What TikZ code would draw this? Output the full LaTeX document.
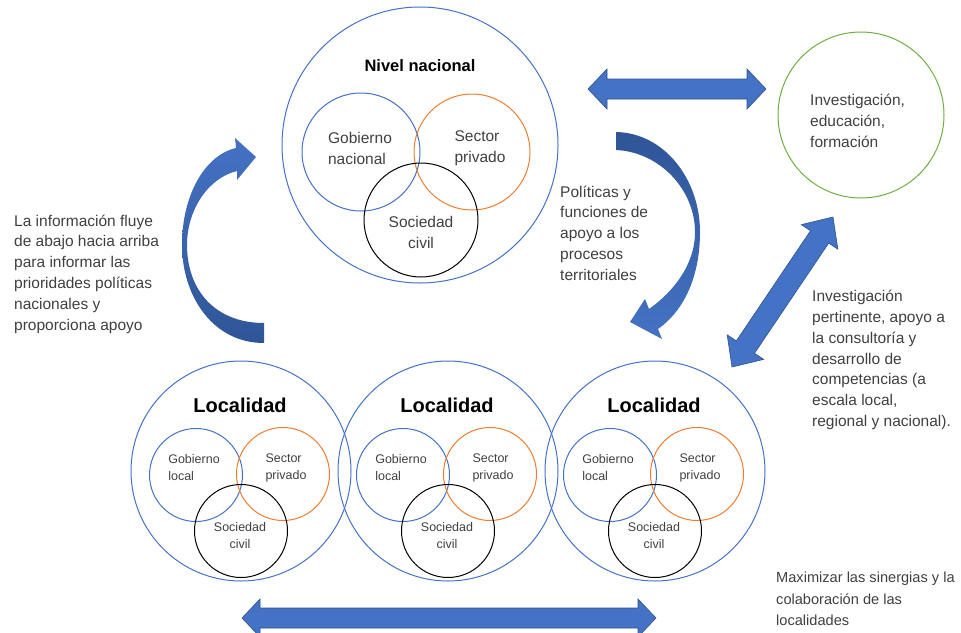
\documentclass[tikz,border=0pt]{standalone}
\usepackage{fontspec}
\setmainfont{Liberation Sans}
\usetikzlibrary{calc}
\definecolor{cblue}{HTML}{4472C4}
\definecolor{corange}{HTML}{ED7D31}
\definecolor{cgreen}{HTML}{70AD47}
\definecolor{ctext}{HTML}{404040}
\definecolor{cdark}{HTML}{2F5597}
\definecolor{cedge}{HTML}{2F528F}
\newcommand\dblarrow[5]{%
  \filldraw[arrowstyle] (#1)
   -- ($(#1)!#5!(#2)!#4!90:(#2)$)
   -- ($(#1)!#5!(#2)!#3!90:(#2)$)
   -- ($(#2)!#5!(#1)!#3!-90:(#1)$)
   -- ($(#2)!#5!(#1)!#4!-90:(#1)$)
   -- (#2)
   -- ($(#2)!#5!(#1)!#4!90:(#1)$)
   -- ($(#2)!#5!(#1)!#3!90:(#1)$)
   -- ($(#1)!#5!(#2)!#3!-90:(#2)$)
   -- ($(#1)!#5!(#2)!#4!-90:(#2)$)
   -- cycle;}
\tikzset{
  circ/.style={circle, draw, line width=1pt, inner sep=0pt, minimum size=#1},
  bigtxt/.style={font=\fontsize{15.5}{20.8}\selectfont, text=ctext, align=left, inner sep=0pt, anchor=west},
  intxt/.style={font=\fontsize{15.5}{21}\selectfont, text=ctext, inner sep=0pt},
  smtxt/.style={font=\fontsize{12.5}{17}\selectfont, text=ctext, inner sep=0pt},
  arrowstyle/.style={fill=cblue, draw=cedge, line width=0.6pt, line join=miter},
}
\begin{document}
\begin{tikzpicture}[x=1pt, y=-1pt]
\useasboundingbox (0,0) rectangle (961,632);

% national level
\node[circ=276, draw=cblue] (nat) at (420,145) {};
\node[font=\bfseries\fontsize{16.5}{20}\selectfont, inner sep=0pt] (natlbl) at (420,66) {Nivel nacional};
\node[circ=118, draw=cblue] (gobnat) at (361,152) {};
\node[circ=116, draw=corange] (secnat) at (472,152) {};
\node[circ=114, draw=black] (socnat) at (421,220) {};
\node[intxt, align=left] (gobnatlbl) at (360,148) {Gobierno\\nacional};
\node[intxt, align=left] (secnatlbl) at (480,148) {Sector\\privado};
\node[intxt, align=center] (socnatlbl) at (421,232) {Sociedad\\civil};

% research circle
\node[circ=166, draw=cgreen] (inv) at (861,115) {};
\node[bigtxt] (invlbl) at (810,121) {Investigación,\\educación,\\formación};

% localities
\foreach \i/\cx in {1/241, 2/448, 3/655} {
  \node[circ=220, draw=cblue] (loc\i) at (\cx,471) {};
  \node[font=\bfseries\fontsize{20}{24}\selectfont, inner sep=0pt] (loclbl\i) at ($(loc\i)+(-1,-66)$) {Localidad};
  \node[circ=93, draw=cblue] (gobloc\i) at ($(loc\i)+(-45,4)$) {};
  \node[circ=93, draw=corange] (secloc\i) at ($(loc\i)+(42,3)$) {};
  \node[circ=93, draw=black] (socloc\i) at ($(loc\i)+(0,60)$) {};
  \node[smtxt, align=left] (goblbl\i) at ($(loc\i)+(-47,-3)$) {Gobierno\\local};
  \node[smtxt, align=left] (seclbl\i) at ($(loc\i)+(45,-3)$) {Sector\\privado};
  \node[smtxt, align=center] (soclbl\i) at ($(loc\i)+(-1,65)$) {Sociedad\\civil};
}

% texts
\node[bigtxt] (lefttxt) at (14,274) {La información fluye\\de abajo hacia arriba\\para informar las\\prioridades políticas\\nacionales y\\proporciona apoyo};
\node[bigtxt] (poltxt) at (560,233) {Políticas y\\funciones de\\apoyo a los\\procesos\\territoriales};
\node[bigtxt] (invptxt) at (812,360) {Investigación\\pertinente, apoyo a\\la consultoría y\\desarrollo de\\competencias (a\\escala local,\\regional y nacional).};
\node[bigtxt, font=\fontsize{14.6}{21.5}\selectfont] (maxtxt) at (776,599) {Maximizar las sinergias y la\\colaboración de las\\localidades};

% straight double arrows
\coordinate (ta1) at (588,89);
\coordinate (ta2) at (766,89);
\dblarrow{ta1}{ta2}{10pt}{20pt}{19pt}
\coordinate (da1) at (833,217);
\coordinate (da2) at (732,367);
\dblarrow{da1}{da2}{11pt}{22pt}{24pt}
\coordinate (ba1) at (242,618);
\coordinate (ba2) at (656,618);
\dblarrow{ba1}{ba2}{10pt}{19pt}{18pt}

% curved arrows
\shade[top color=cblue, bottom color=cdark]
  (264,343) .. controls (212,343) and (182,295) .. (182,245)
  .. controls (182,195) and (205,155) .. (236,148)
  -- (235,138) -- (256,157) -- (237,180) -- (237,171)
  .. controls (208,178) and (187,210) .. (187,245)
  .. controls (187,290) and (215,323) .. (264,323) -- cycle;
\shade[top color=cdark, bottom color=cblue]
  (616,132) .. controls (665,133) and (700,180) .. (700,232)
  .. controls (700,275) and (685,310) .. (658,329)
  -- (662,339) -- (630,322) -- (645,299) -- (649,309)
  .. controls (673,292) and (695,265) .. (695,232)
  .. controls (695,190) and (660,152) .. (616,150) -- cycle;
\end{tikzpicture}
\end{document}
